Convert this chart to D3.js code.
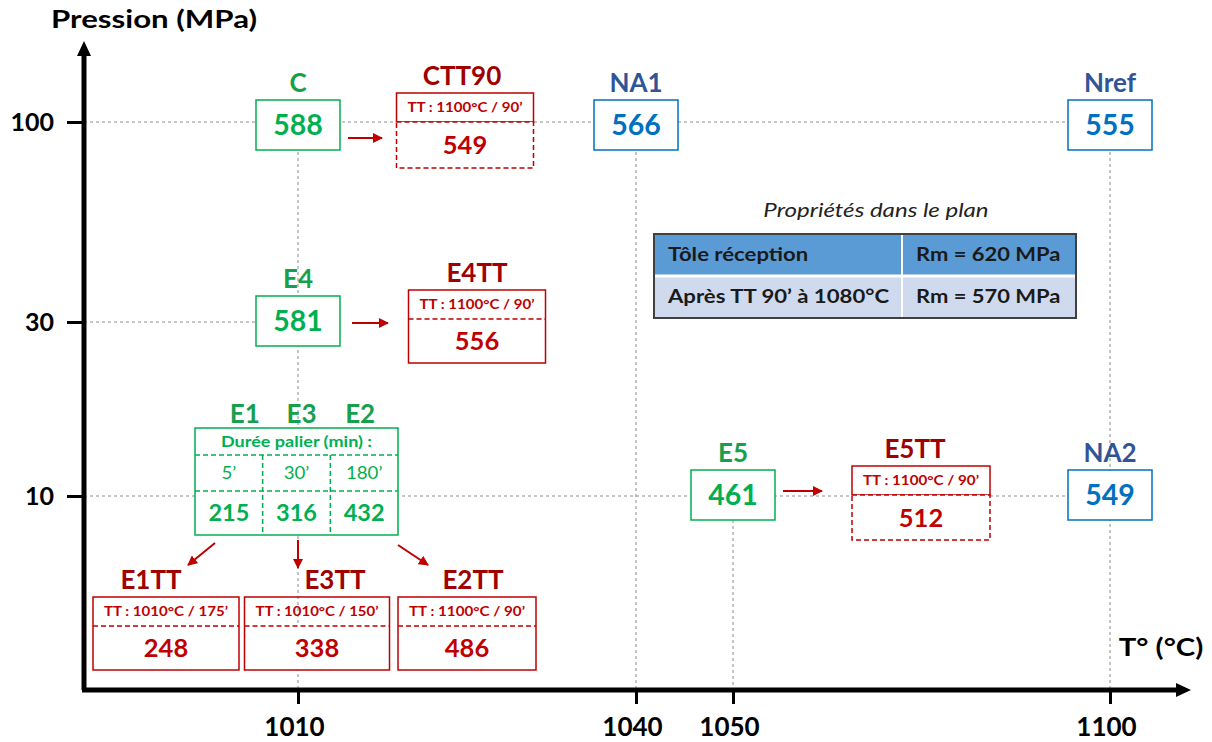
<!DOCTYPE html>
<html>
<head>
<meta charset="utf-8">
<script src="https://cdn.jsdelivr.net/npm/d3@7"></script>
<style>
  body { margin: 0; background: #fff; }
  svg { font-family: Lato, "Open Sans", sans-serif; font-weight: bold; }
</style>
</head>
<body>
<svg id="chart" width="1212" height="742"></svg>
<script>
const temperatures = [1010, 1040, 1050, 1100];
const pressions = [10, 30, 100];

const essais = ["C", "E4", "NA1", "Nref", "E5", "NA2"];
const essaiT = [1010, 1010, 1040, 1100, 1050, 1100];
const essaiP = [100, 30, 100, 100, 10, 10];
const essaiRm = [588, 581, 566, 555, 461, 549];
const essaiFamille = ["E", "E", "N", "N", "E", "N"];

const paliers = ["E1", "E3", "E2"];
const palierDuree = ["5’", "30’", "180’"];
const palierRm = [215, 316, 432];
const palierT = 1010, palierP = 10;

const essaisTT = ["CTT90", "E4TT", "E5TT", "E1TT", "E3TT", "E2TT"];
const parentTT = ["C", "E4", "E5", "E1", "E3", "E2"];
const traitementTT = ["TT : 1100°C / 90’", "TT : 1100°C / 90’", "TT : 1100°C / 90’",
                      "TT : 1010°C / 175’", "TT : 1010°C / 150’", "TT : 1100°C / 90’"];
const rmTT = [549, 556, 512, 248, 338, 486];

const tableTitre = "Propriétés dans le plan";
const tableEtat = ["Tôle réception", "Après TT 90’ à 1080°C"];
const tableRm = ["Rm = 620 MPa", "Rm = 570 MPa"];

// couleurs
const couleurs = {
  E: { label: "#17a04c", box: "#00b050", val: "#00b050" },
  N: { label: "#2f5597", box: "#0070c0", val: "#0070c0" },
  TT: { label: "#a00000", box: "#c00000", val: "#c00000" }
};

const svg = d3.select("#chart");
const x0 = 84, yAxis = 690;

// les deux axes du schéma ne sont pas à l'échelle : échelles par morceaux
const x = d3.scaleLinear().domain(temperatures).range([298, 636, 733, 1110]);
const y = d3.scaleLinear().domain(pressions).range([496, 322, 122]);

// élargit horizontalement un texte (la police d'origine est plus large)
function etire(sel, k) {
  sel.each(function () {
    const L = this.getComputedTextLength();
    d3.select(this).attr("textLength", L * k).attr("lengthAdjust", "spacingAndGlyphs");
  });
  return sel;
}
function ajuste(sel, largeur) {
  return sel.attr("textLength", largeur).attr("lengthAdjust", "spacingAndGlyphs");
}

// --- lignes de rappel pointillées
const grid = svg.append("g").attr("stroke", "#8c8c8c").attr("stroke-width", 1)
  .attr("stroke-dasharray", "3,3");
pressions.forEach(p => {
  const xs = essais.filter((d, i) => essaiP[i] === p).map(d => x(essaiT[essais.indexOf(d)]));
  grid.append("line").attr("x1", x0).attr("x2", d3.max(xs)).attr("y1", y(p)).attr("y2", y(p));
});
temperatures.forEach(t => {
  const ys = essais.filter((d, i) => essaiT[i] === t).map(d => y(essaiP[essais.indexOf(d)]));
  grid.append("line").attr("x1", x(t)).attr("x2", x(t)).attr("y1", d3.min(ys)).attr("y2", yAxis);
});

// --- axes
const gx = svg.append("g").attr("transform", `translate(0,${yAxis})`)
  .call(d3.axisBottom(x).tickValues(temperatures).tickSize(14).tickPadding(14).tickFormat(d3.format("d")));
gx.attr("font-family", null).attr("font-size", 26);
gx.select(".domain").remove();
gx.selectAll(".tick line").attr("stroke", "#000").attr("stroke-width", 3);
gx.selectAll(".tick text").attr("fill", "#000").attr("dx", -4);

const gy = svg.append("g").attr("transform", `translate(${x0},0)`)
  .call(d3.axisLeft(y).tickValues(pressions).tickSize(17).tickPadding(13).tickFormat(d3.format("d")));
gy.attr("font-family", null).attr("font-size", 25);
gy.select(".domain").remove();
gy.selectAll(".tick line").attr("stroke", "#000").attr("stroke-width", 3);
gy.selectAll(".tick text").attr("fill", "#000");

svg.append("path").attr("d", `M${x0},${yAxis} V54 M${x0 - 2},${yAxis} H1178`)
  .attr("stroke", "#000").attr("stroke-width", 5).attr("fill", "none");
svg.append("path").attr("d", `M${x0},41 L${x0 - 7},56 L${x0 + 7},56 Z M1191,${yAxis} L1176,${yAxis - 7} L1176,${yAxis + 7} Z`)
  .attr("fill", "#000");

etire(svg.append("text").attr("x", 154).attr("y", 28).attr("text-anchor", "middle")
  .attr("font-size", 24).text("Pression (MPa)"), 1.3);
etire(svg.append("text").attr("x", 1161).attr("y", 656).attr("text-anchor", "middle")
  .attr("font-size", 24).text("T° (°C)"), 1.22);

// --- flèches rouges
svg.append("defs").append("marker").attr("id", "fleche")
  .attr("viewBox", "0 0 10 10").attr("refX", 9).attr("refY", 5)
  .attr("markerWidth", 5).attr("markerHeight", 5).attr("orient", "auto")
  .append("path").attr("d", "M0,0 L10,5 L0,10 Z").attr("fill", "#c00000");

function fleche(x1, y1, x2, y2) {
  svg.append("line").attr("x1", x1).attr("y1", y1).attr("x2", x2).attr("y2", y2)
    .attr("stroke", "#c00000").attr("stroke-width", 2).attr("marker-end", "url(#fleche)");
}

// --- essais (boîtes simples)
const bw = 84, bh = 50;
const ancre = {};
essais.forEach((nom, i) => {
  const c = couleurs[essaiFamille[i]];
  const cx = x(essaiT[i]), cy = y(essaiP[i]) + (essaiP[i] === 100 ? 3 : -1);
  ancre[nom] = { x: cx, y: y(essaiP[i]) };
  svg.append("rect").attr("x", cx - bw / 2).attr("y", cy - bh / 2).attr("width", bw).attr("height", bh)
    .attr("fill", "#fff").attr("stroke", c.box).attr("stroke-width", 1.5);
  svg.append("text").attr("x", cx).attr("y", cy).attr("dy", "0.36em").attr("text-anchor", "middle")
    .attr("font-size", 28.5).attr("fill", c.val).text(essaiRm[i]);
  svg.append("text").attr("x", cx).attr("y", cy - bh / 2 - 8).attr("text-anchor", "middle")
    .attr("font-size", 26).attr("fill", c.label).text(nom);
});

// --- essais à durée de palier variable (E1, E3, E2)
{
  const c = couleurs.E;
  const gxc = x(palierT) - 1.5, gyc = y(palierP);
  const w = 203, top = gyc - 68, r1 = gyc - 41, r2 = gyc - 5, bot = gyc + 39;
  const col = d3.scaleBand().domain(paliers).range([gxc - w / 2, gxc + w / 2]);
  svg.append("rect").attr("x", gxc - w / 2).attr("y", top).attr("width", w).attr("height", bot - top)
    .attr("fill", "#fff").attr("stroke", c.box).attr("stroke-width", 1.5);
  const dash = svg.append("g").attr("stroke", c.box).attr("stroke-width", 1.5).attr("stroke-dasharray", "5,3");
  [r1, r2].forEach(v => dash.append("line").attr("x1", gxc - w / 2).attr("x2", gxc + w / 2).attr("y1", v).attr("y2", v));
  paliers.slice(1).forEach(p => dash.append("line").attr("x1", col(p)).attr("x2", col(p)).attr("y1", r1).attr("y2", bot));
  ajuste(svg.append("text").attr("x", gxc).attr("y", (top + r1) / 2).attr("dy", "0.36em").attr("text-anchor", "middle")
    .attr("font-size", 14.5).attr("fill", c.val).text("Durée palier (min) :"), w - 52);
  const decal = [16, 5, -4];
  paliers.forEach((p, i) => {
    const cx = col(p) + col.bandwidth() / 2;
    ancre[p] = { x: x(palierT), y: gyc };
    etire(svg.append("text").attr("x", cx).attr("y", (r1 + r2) / 2).attr("dy", "0.36em").attr("text-anchor", "middle")
      .attr("font-size", 17).attr("font-weight", "normal").attr("fill", c.val).text(palierDuree[i]), 1.1);
    svg.append("text").attr("x", cx).attr("y", (r2 + bot) / 2).attr("dy", "0.36em").attr("text-anchor", "middle")
      .attr("font-size", 23.5).attr("fill", c.val).text(palierRm[i]);
    svg.append("text").attr("x", cx + decal[i]).attr("y", top - 5).attr("text-anchor", "middle")
      .attr("font-size", 26).attr("fill", c.label).text(p);
  });
}

// --- essais après traitement thermique
const placeTT = {
  CTT90: { dx: 167, dy: 0, w: 137, top: 29, bot: 46, pointille: true, ldx: -3, fl: [50, 16, 84, 16] },
  E4TT:  { dx: 179, dy: -3, w: 137, top: 29, bot: 44, pointille: false, ldx: 0, fl: [54, 1, 90, 1] },
  E5TT:  { dx: 188, dy: -1, w: 138, top: 29, bot: 45, pointille: true, ldx: -6, fl: [50, -5, 89, -5] },
  E1TT:  { dx: -132, dy: 130, w: 146, top: 29, bot: 44, pointille: false, ldx: -15, fl: [-83, 47, -110, 69] },
  E3TT:  { dx: 19, dy: 130, w: 145, top: 29, bot: 44, pointille: false, ldx: 18, fl: [0, 44, 0, 72], transparent: true },
  E2TT:  { dx: 169, dy: 130, w: 138, top: 29, bot: 44, pointille: false, ldx: 6, fl: [100, 49, 130, 69] }
};

essaisTT.forEach((nom, i) => {
  const c = couleurs.TT, pl = placeTT[nom], a = ancre[parentTT[i]];
  const cx = a.x + pl.dx, ly = a.y + pl.dy, left = cx - pl.w / 2;
  if (pl.pointille) {
    svg.append("rect").attr("x", left).attr("y", ly - pl.top).attr("width", pl.w).attr("height", pl.top)
      .attr("fill", "#fff").attr("stroke", c.box).attr("stroke-width", 1.5);
    svg.append("rect").attr("x", left).attr("y", ly).attr("width", pl.w).attr("height", pl.bot)
      .attr("fill", "#fff").attr("stroke", c.box).attr("stroke-width", 1.5).attr("stroke-dasharray", "5,3");
  } else {
    // la partie haute de E3TT laisse voir la ligne de rappel
    svg.append("rect").attr("x", left).attr("y", pl.transparent ? ly : ly - pl.top)
      .attr("width", pl.w).attr("height", pl.transparent ? pl.bot : pl.top + pl.bot).attr("fill", "#fff");
    svg.append("rect").attr("x", left).attr("y", ly - pl.top).attr("width", pl.w).attr("height", pl.top + pl.bot)
      .attr("fill", "none").attr("stroke", c.box).attr("stroke-width", 1.5);
    svg.append("line").attr("x1", left).attr("x2", left + pl.w).attr("y1", ly).attr("y2", ly)
      .attr("stroke", c.box).attr("stroke-width", 1.5).attr("stroke-dasharray", "5,3");
  }
  ajuste(svg.append("text").attr("x", cx).attr("y", ly - pl.top / 2).attr("dy", "0.36em").attr("text-anchor", "middle")
    .attr("font-size", 13.5).attr("fill", c.val).text(traitementTT[i]), pl.w - 22);
  svg.append("text").attr("x", cx).attr("y", ly + pl.bot / 2).attr("dy", "0.36em").attr("text-anchor", "middle")
    .attr("font-size", 25.5).attr("fill", c.val).text(rmTT[i]);
  svg.append("text").attr("x", cx + pl.ldx).attr("y", ly - pl.top - 8).attr("text-anchor", "middle")
    .attr("font-size", 26).attr("fill", c.label).text(nom);
  fleche(a.x + pl.fl[0], a.y + pl.fl[1], a.x + pl.fl[2], a.y + pl.fl[3]);
});

// --- tableau des propriétés dans le plan
{
  const tx = 654, ty = 234, tw = 422, rh = [42, 42], cSplit = 248;
  etire(svg.append("text").attr("x", tx + tw / 2 + 11).attr("y", ty - 17).attr("text-anchor", "middle")
    .attr("font-size", 18.5).attr("font-weight", "normal").attr("font-style", "italic").attr("fill", "#222")
    .text(tableTitre), 1.3);
  const fonds = ["#5b9bd5", "#cfdaee"];
  tableEtat.forEach((etat, i) => {
    const yy = ty + d3.sum(rh.slice(0, i));
    svg.append("rect").attr("x", tx).attr("y", yy).attr("width", tw).attr("height", rh[i]).attr("fill", fonds[i]);
    etire(svg.append("text").attr("x", tx + 14).attr("y", yy + rh[i] / 2).attr("dy", "0.36em")
      .attr("font-size", 18).attr("fill", "#1a1a1a").text(etat), 1.23);
    etire(svg.append("text").attr("x", tx + cSplit + 14).attr("y", yy + rh[i] / 2).attr("dy", "0.36em")
      .attr("font-size", 18).attr("fill", "#1a1a1a").text(tableRm[i]), 1.22);
  });
  svg.append("line").attr("x1", tx).attr("x2", tx + tw).attr("y1", ty + rh[0]).attr("y2", ty + rh[0])
    .attr("stroke", "#fff").attr("stroke-width", 3);
  svg.append("line").attr("x1", tx + cSplit).attr("x2", tx + cSplit).attr("y1", ty).attr("y2", ty + d3.sum(rh))
    .attr("stroke", "#fff").attr("stroke-width", 2);
  svg.append("rect").attr("x", tx).attr("y", ty).attr("width", tw).attr("height", d3.sum(rh))
    .attr("fill", "none").attr("stroke", "#404040").attr("stroke-width", 2);
}
</script>
</body>
</html>
